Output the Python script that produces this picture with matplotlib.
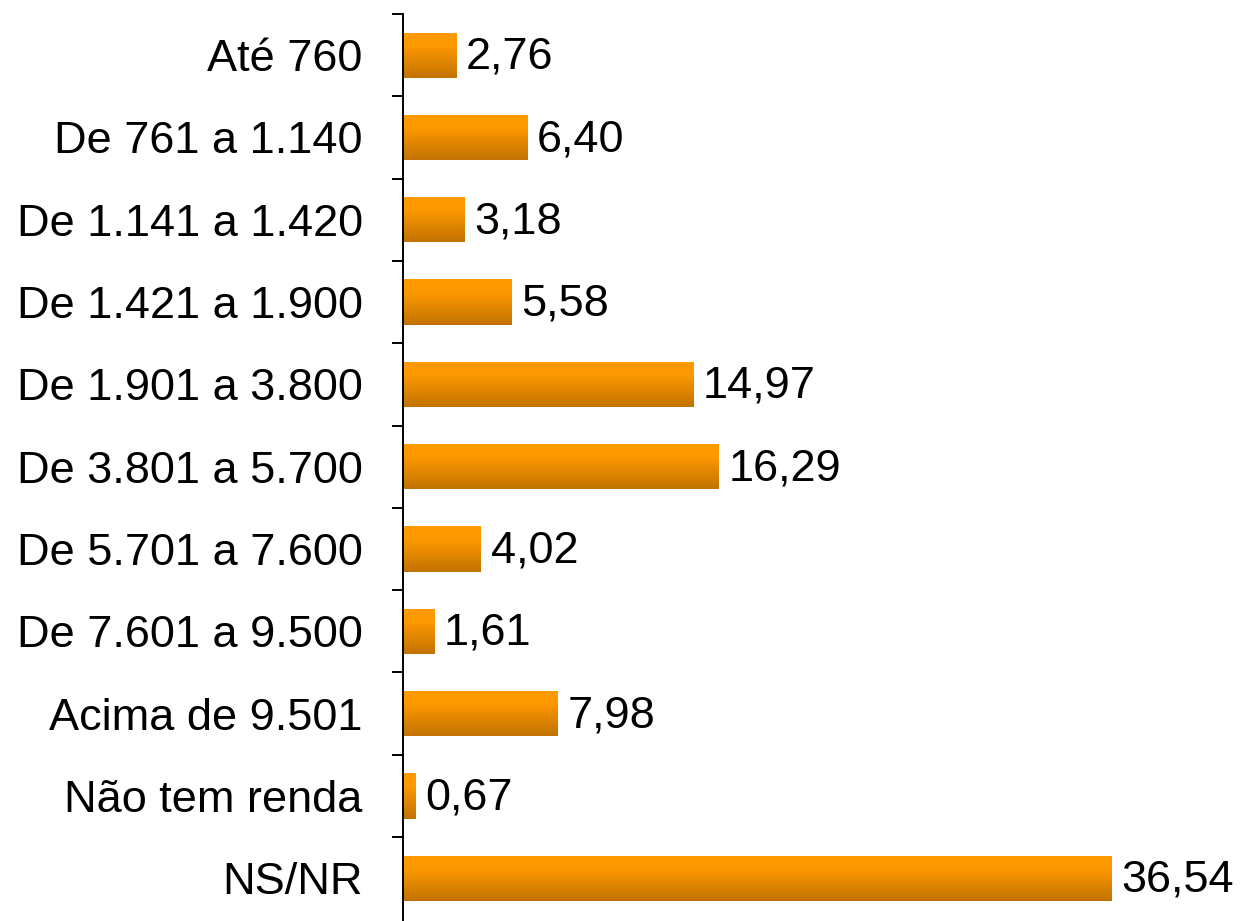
import numpy as np
import matplotlib.pyplot as plt
from matplotlib.colors import LinearSegmentedColormap

plt.rcParams['font.family'] = ['Liberation Sans', 'DejaVu Sans']

categories = ['Até 760', 'De 761 a 1.140', 'De 1.141 a 1.420', 'De 1.421 a 1.900',
              'De 1.901 a 3.800', 'De 3.801 a 5.700', 'De 5.701 a 7.600',
              'De 7.601 a 9.500', 'Acima de 9.501', 'Não tem renda', 'NS/NR']
values = [2.76, 6.40, 3.18, 5.58, 14.97, 16.29, 4.02, 1.61, 7.98, 0.67, 36.54]

fig = plt.figure(figsize=(12.42, 9.21), dpi=100)
ax = fig.add_axes([403 / 1242, 0.0, 1 - 403 / 1242, 1 - 14 / 921])

y = np.arange(len(categories))
bars = ax.barh(y, values, height=0.55, color='none', edgecolor='none')

# vertical gradient: bright orange on top, darker towards the bottom
cmap = LinearSegmentedColormap.from_list(
    'og', [(0.0, '#c17200'), (0.7, '#fd9800'), (1.0, '#ff9a00')])
grad = np.linspace(1, 0, 256).reshape(-1, 1)
for b in bars:
    x0, y0 = b.get_x(), b.get_y()
    w, h = b.get_width(), b.get_height()
    im = ax.imshow(grad, cmap=cmap, aspect='auto', origin='upper',
                   extent=(x0, x0 + w, y0 + h, y0), zorder=2)
    im.set_clip_path(b)

for yi, v in zip(y, values):
    ax.annotate(f'{v:.2f}'.replace('.', ','), (v, yi), xytext=(7, -1.5),
                textcoords='offset points', va='center', ha='left', fontsize=32.5)

ax.set_xlim(0, (1242 - 403) / 19.38)
ax.set_ylim(len(categories) - 0.48, -0.5)

ax.set_yticks(np.arange(-0.5, len(categories) - 1, 1.0))
ax.set_yticklabels([])
ax.set_yticks(y, minor=True)
ax.set_yticklabels(categories, minor=True, fontsize=32.5)
ax.tick_params(axis='y', which='major', length=8, width=1.4, direction='out')
ax.tick_params(axis='y', which='minor', length=0, pad=29)
ax.set_xticks([])

for s in ['top', 'right', 'bottom']:
    ax.spines[s].set_visible(False)
ax.spines['left'].set_linewidth(1.4)

fig.savefig('out.png', dpi=100)
